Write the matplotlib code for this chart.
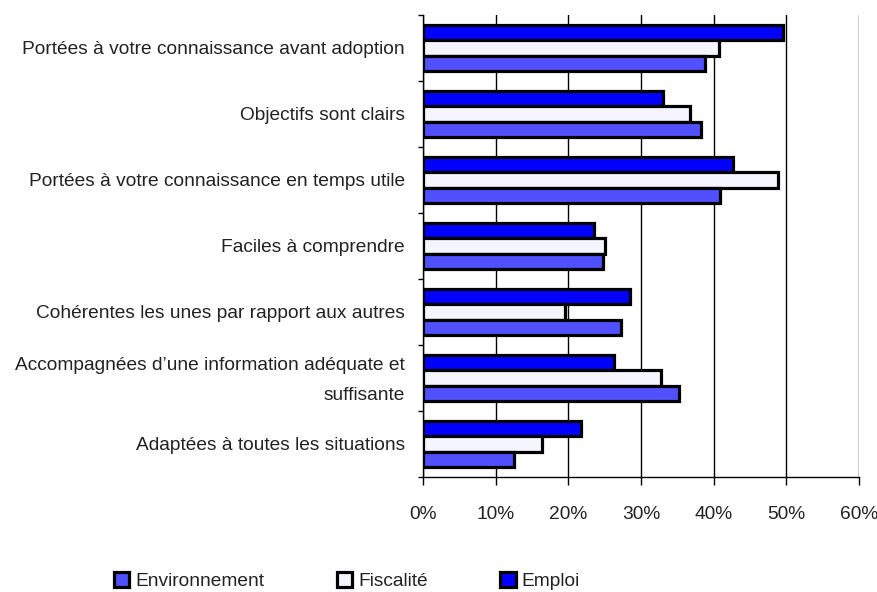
import matplotlib as mpl
import matplotlib.pyplot as plt
import matplotlib.transforms as mtransforms
from matplotlib.patches import Patch
import numpy as np

categories = [
    'Portées à votre connaissance avant adoption',
    'Objectifs sont clairs',
    'Portées à votre connaissance en temps utile',
    'Faciles à comprendre',
    'Cohérentes les unes par rapport aux autres',
    'Accompagnées d\u2019une information adéquate et\nsuffisante',
    'Adaptées à toutes les situations',
]
emploi = [49.5, 33.0, 42.6, 23.6, 28.5, 26.3, 21.8]
fiscalite = [40.7, 36.7, 48.8, 25.1, 19.6, 32.8, 16.4]
environnement = [38.8, 38.2, 40.9, 24.8, 27.3, 35.2, 12.5]

series_names = ['Environnement', 'Fiscalité', 'Emploi']
colors = ['#5050ff', '#f5f5ff', '#0000ff']

mpl.rcParams.update({'font.family': ['Liberation Sans', 'DejaVu Sans'], 'font.size': 13.8})

dpi = 100
fig = plt.figure(dpi=dpi, figsize=(878 / dpi, 592 / dpi))
ax = fig.add_axes([423 / 878, 1 - 477 / 592, 436 / 878, 462 / 592])

y = np.arange(len(categories))
h = 0.233
ax.barh(y - h, emploi, h, color=colors[2], edgecolor='black', linewidth=2.3, zorder=3)
ax.barh(y, fiscalite, h, color=colors[1], edgecolor='black', linewidth=2.3, zorder=3)
ax.barh(y + h, environnement, h, color=colors[0], edgecolor='black', linewidth=2.3, zorder=3)

ax.set_xlim(0, 60)
ax.set_ylim(len(categories) - 0.5, -0.5)
ax.set_xticks(range(0, 61, 10))
ax.set_xticklabels(['%d%%' % v for v in range(0, 61, 10)], color='#222222')
ax.xaxis.grid(True, color='black', linewidth=1)
ax.set_axisbelow(True)

ax.set_yticks(y)
ax.set_yticklabels(categories, linespacing=2.0, color='#222222')
ax.set_yticks(np.arange(-0.5, len(categories)), minor=True)
ax.tick_params(axis='y', which='major', length=0, pad=13)
ax.tick_params(axis='y', which='minor', length=3.6, width=1)
ax.tick_params(axis='x', length=5.8, width=1, pad=15)

# two-line label sits a bit low, nudge it up
shift = mtransforms.ScaledTranslation(0, 6 / dpi, fig.dpi_scale_trans)
for lab in ax.get_yticklabels():
    if '\n' in lab.get_text():
        lab.set_transform(lab.get_transform() + shift)

for s in ['top', 'right']:
    ax.spines[s].set_visible(False)
ax.spines['left'].set_linewidth(1)
ax.spines['bottom'].set_linewidth(1)

handles = [Patch(facecolor=c, edgecolor='black', linewidth=2.3) for c in colors]
leg = fig.legend(handles, series_names, loc='lower left', bbox_to_anchor=(112 / 878, 0.0),
                 ncol=3, frameon=False, handlelength=0.8, handleheight=0.8,
                 handletextpad=0.3, columnspacing=3.8, borderaxespad=0, borderpad=0.1,
                 fontsize=13.8)
for t in leg.get_texts():
    t.set_color('#222222')

fig.savefig('out.png')
